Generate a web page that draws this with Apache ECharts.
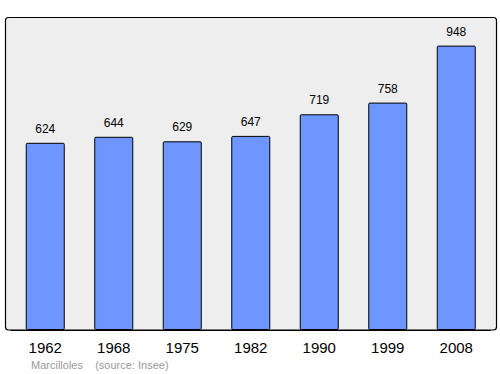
<!DOCTYPE html>
<html>
<head>
<meta charset="utf-8">
<script src="https://cdn.jsdelivr.net/npm/echarts@6/dist/echarts.min.js"></script>
<style>
  html, body { margin: 0; padding: 0; background: #fff; }
  #chart { width: 500px; height: 374px; }
</style>
</head>
<body>
<div id="chart"></div>
<script>
var years = ['1962', '1968', '1975', '1982', '1990', '1999', '2008'];
var population = [624, 644, 629, 647, 719, 758, 948];

var chartDom = document.getElementById('chart');
var popChart = echarts.init(chartDom, null, {renderer: 'svg'});

var option = {
    animation: false,
    backgroundColor: '#ffffff',
    graphic: [{
        type: 'rect',
        z: -10,
        shape: {x: 5.5, y: 17.5, width: 491, height: 312.5, r: 3},
        style: {fill: '#eeeeee', stroke: '#000', lineWidth: 1.2}
    }, {
        type: 'text',
        left: 31,
        top: 359,
        style: {
            text: 'Marcilloles    (source: Insee)',
            fill: '#999999',
            font: '11px "Liberation Sans", Arial, sans-serif'
        }
    }],
    grid: {left: 11, right: 9.5, top: 18, bottom: 44},
    xAxis: {
        type: 'category',
        data: years,
        axisLine: {show: true, lineStyle: {color: '#000', width: 1.2}},
        axisTick: {show: false},
        axisLabel: {
            color: '#000',
            fontSize: 15,
            margin: 10,
            fontFamily: '"Liberation Sans", Arial, sans-serif'
        }
    },
    yAxis: {
        type: 'value',
        min: 0,
        max: 1040,
        show: false,
        splitLine: {show: false}
    },
    series: [{
        type: 'bar',
        data: population,
        barWidth: 39,
        itemStyle: {
            color: '#6f96ff',
            borderColor: '#000',
            borderWidth: 1,
            borderRadius: 1
        },
        label: {
            show: true,
            position: 'top',
            distance: 8,
            color: '#000',
            fontSize: 12,
            fontFamily: '"Liberation Sans", Arial, sans-serif'
        }
    }]
};

option && popChart.setOption(option);
</script>
</body>
</html>
